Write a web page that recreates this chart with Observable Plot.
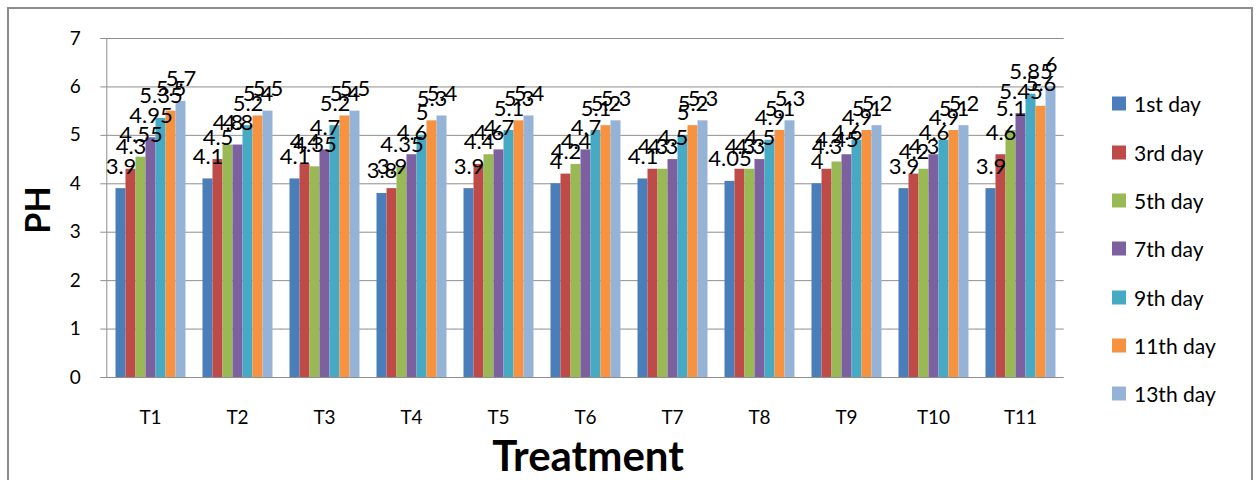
<!DOCTYPE html>
<html><head><meta charset="utf-8">
<script src="https://cdn.jsdelivr.net/npm/d3@7"></script>
<script src="https://cdn.jsdelivr.net/npm/@observablehq/plot@0.6"></script>
<style>
body{margin:0;background:#fff;font-family:Lato,"Open Sans",sans-serif;}
#wrap{position:relative;width:1260px;height:480px;overflow:hidden;background:#fff;}
#border{position:absolute;left:7px;top:7px;width:1246px;height:500px;border:2px solid #8c8c8c;box-sizing:border-box;}
#chart{position:absolute;left:0;top:0;}
#ytitle{position:absolute;left:36px;top:210px;transform:translate(-50%,-50%) rotate(-90deg);font-weight:bold;font-size:34px;color:#000;white-space:nowrap;}
#xtitle{position:absolute;left:588px;top:455px;transform:translate(-50%,-50%);font-weight:bold;font-size:42px;color:#000;white-space:nowrap;}
#legend{position:absolute;left:1112px;top:0;}
.li{position:absolute;left:0;display:flex;align-items:center;white-space:nowrap;font-size:21px;color:#000;transform:translateY(-50%);}
.sw{width:14px;height:14px;margin-right:8px;}
</style></head><body>
<div id="wrap">
<div id="border"></div>
<div id="chart"></div>
<div id="ytitle">PH</div>
<div id="xtitle">Treatment</div>
<div id="legend"></div>
</div>
<script>
const treatments = ["T1","T2","T3","T4","T5","T6","T7","T8","T9","T10","T11"];
const days = ["1st day","3rd day","5th day","7th day","9th day","11th day","13th day"];
const colors = ["#4A7EBB","#BE4B48","#98B954","#7D60A0","#46AAC5","#F69240","#95B3D7"];
const day1  = [3.9, 4.1, 4.1, 3.8, 3.9, 4,   4.1, 4.05, 4,    3.9, 3.9];
const day3  = [4.3, 4.5, 4.4, 3.9, 4.4, 4.2, 4.3, 4.3,  4.3,  4.2, 4.6];
const day5  = [4.55,4.8, 4.35,4.35,4.6, 4.4, 4.3, 4.3,  4.45, 4.3, 5.1];
const day7  = [4.95,4.8, 4.7, 4.6, 4.7, 4.7, 4.5, 4.5,  4.6,  4.6, 5.45];
const day9  = [5.35,5.2, 5.2, 5,   5.1, 5.1, 5,   4.9,  4.9,  4.9, 5.85];
const day11 = [5.5, 5.4, 5.4, 5.3, 5.3, 5.2, 5.2, 5.1,  5.1,  5.1, 5.6];
const day13 = [5.7, 5.5, 5.5, 5.4, 5.4, 5.3, 5.3, 5.3,  5.2,  5.2, 6];
const yTicks = [0,1,2,3,4,5,6,7];

const series = [day1,day3,day5,day7,day9,day11,day13];
const data = [];
treatments.forEach((t,i) => series.forEach((s,j) => data.push({t, day: days[j], v: s[i]})));

const mL = 106.5, mR = 196.5;
const step = (1260 - mL - mR) / treatments.length;
const half = step * 0.1;
const grey = "#8e8e8e";

const chart = Plot.plot({
  width: 1260, height: 480,
  marginLeft: mL, marginRight: mR, marginTop: 38, marginBottom: 103,
  style: {fontFamily: "Lato, 'Open Sans', sans-serif", background: "transparent", color: "#000"},
  fx: {domain: treatments, paddingInner: 0.2, paddingOuter: 0.1, axis: null, label: null},
  x: {domain: days, padding: 0, axis: null},
  y: {domain: [0, 7], axis: null},
  color: {domain: days, range: colors},
  marks: [
    Plot.ruleY(yTicks, {y: d => d, stroke: grey, strokeWidth: 1, insetLeft: -half, insetRight: -half}),
    Plot.frame({anchor: "left", facetAnchor: "left", stroke: grey, dx: -half}),
    Plot.barY(data, {fx: "t", x: "day", y: "v", fill: "day"}),
    Plot.text(data, {fx: "t", x: "day", y: "v", text: d => String(d.v), lineAnchor: "bottom", dy: -15, fontSize: 22, fill: "#000"}),
    Plot.axisY(yTicks, {tickSize: 6, tickPadding: 20, dx: -half, fontSize: 19, stroke: grey, label: null, tickFormat: d => String(d)}),
    Plot.axisFx({anchor: "bottom", tickSize: 0, tickPadding: 33, fontSize: 19, label: null})
  ]
});
document.getElementById("chart").appendChild(chart);

const legend = document.getElementById("legend");
const tops = [103,152,200,248,297,345,393];
days.forEach((d,i) => {
  const el = document.createElement("div");
  el.className = "li";
  el.style.top = tops[i] + "px";
  el.innerHTML = `<span class="sw" style="background:${colors[i]}"></span><span>${d}</span>`;
  legend.appendChild(el);
});
</script>
</body></html>
